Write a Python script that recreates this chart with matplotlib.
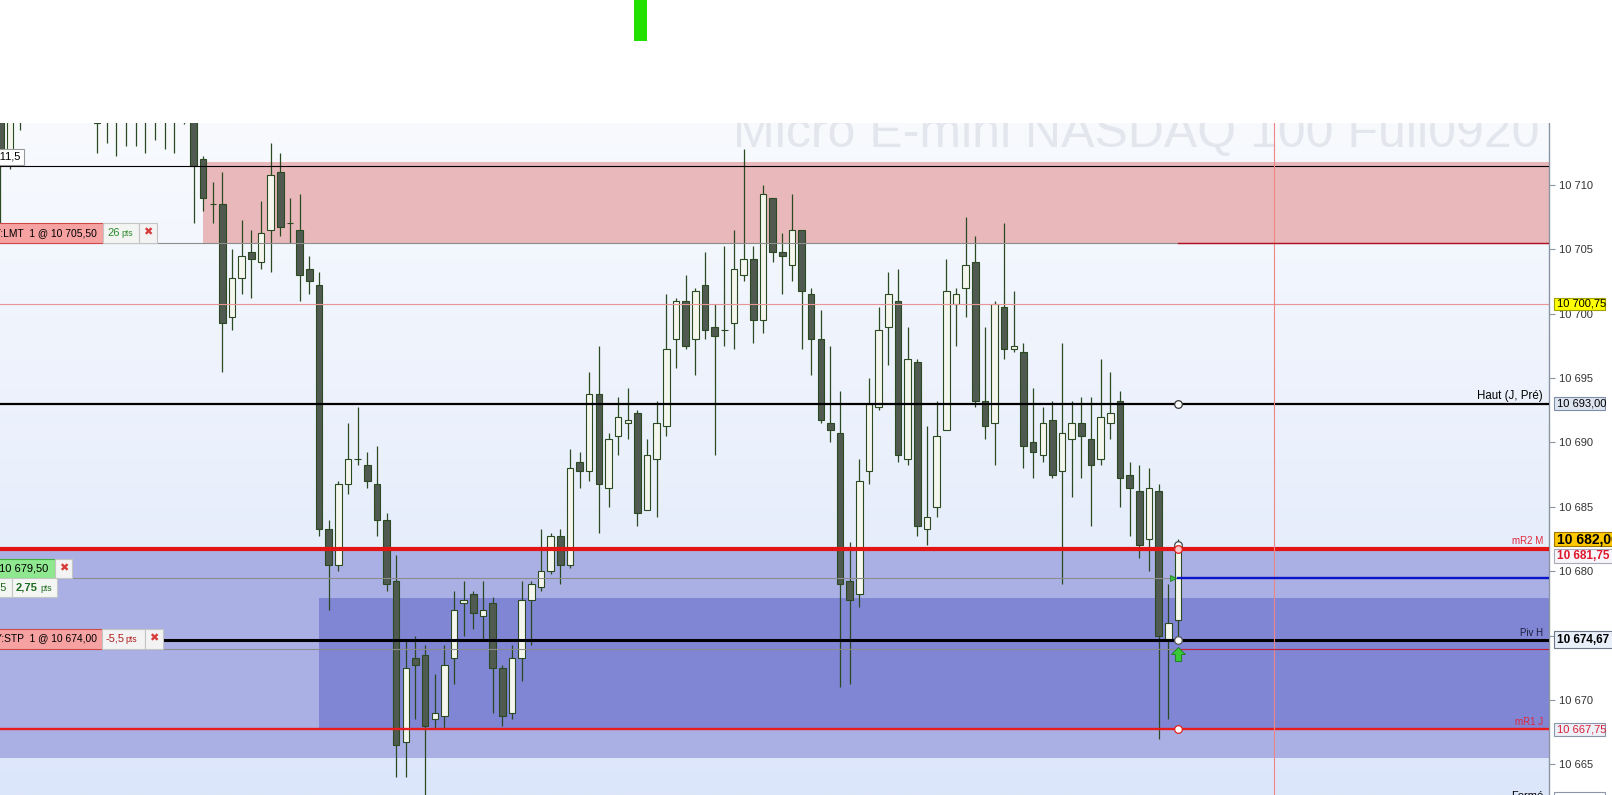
import numpy as np
import matplotlib
matplotlib.use('Agg')
import matplotlib.pyplot as plt
from matplotlib.patches import Rectangle
from matplotlib.path import Path

plt.rcParams['font.family'] = ['Liberation Sans', 'DejaVu Sans']

# ---------------- data (candles, index 0..122) ----------------
opens = [10716.0, 10712.5, 10717.0, 10717.0, 10718.0, 10719.0, 10718.5, 10719.5, 10720.0, 10717.0,
         10714.8, 10716.5, 10715.5, 10716.75, 10716.0, 10717.0, 10715.75, 10716.5, 10715.5, 10716.25,
         10716.0, 10712.0, 10708.5, 10708.5, 10699.75, 10702.75, 10704.75, 10704.0, 10706.5, 10711.0,
         10707.0, 10706.5, 10703.5, 10702.25, 10683.25, 10680.5, 10686.75, 10688.75, 10688.25, 10686.75,
         10684.0, 10679.25, 10666.75, 10673.25, 10673.5, 10668.5, 10668.75, 10673.25, 10677.5, 10678.25,
         10676.5, 10677.5, 10672.5, 10669.0, 10673.25, 10677.75, 10678.75, 10680.0, 10682.75, 10680.5,
         10688.5, 10687.75, 10693.75, 10686.5, 10690.5, 10691.5, 10692.25, 10684.75, 10688.75, 10691.25,
         10698.0, 10701.0, 10698.0, 10702.25, 10699.0, 10698.75, 10699.25, 10703.0, 10704.25, 10699.5,
         10709.0, 10704.75, 10703.75, 10706.5, 10701.5, 10698.0, 10691.5, 10690.75, 10679.25, 10678.25,
         10687.75, 10692.75, 10699.0, 10701.0, 10688.75, 10696.25, 10683.25, 10685.0, 10691.0, 10700.75,
         10702.0, 10704.0, 10693.25, 10691.5, 10700.5, 10697.25, 10697.0, 10690.0, 10689.0, 10691.75,
         10687.75, 10690.25, 10691.5, 10690.25, 10688.75, 10691.5, 10693.25, 10687.5, 10686.25, 10682.5,
         10686.25, 10674.75, 10676.25]
highs = [10717.0, 10717.5, 10718.0, 10719.0, 10720.0, 10721.0, 10720.5, 10721.5, 10721.0, 10719.0,
         10717.0, 10717.5, 10717.5, 10718.0, 10718.0, 10718.0, 10717.5, 10717.25, 10717.0, 10717.0,
         10716.5, 10712.25, 10710.25, 10711.0, 10705.0, 10707.25, 10706.5, 10708.75, 10713.25, 10712.5,
         10709.0, 10709.25, 10704.5, 10703.25, 10684.0, 10687.0, 10691.5, 10692.75, 10689.25, 10689.75,
         10684.5, 10681.25, 10674.75, 10675.0, 10674.25, 10672.0, 10674.25, 10678.5, 10679.25, 10678.5,
         10679.25, 10678.0, 10672.75, 10674.25, 10679.25, 10679.25, 10683.25, 10683.0, 10683.25, 10689.5,
         10689.25, 10695.5, 10697.5, 10690.75, 10693.5, 10694.25, 10692.5, 10690.25, 10693.25, 10701.5,
         10701.25, 10703.0, 10702.0, 10704.75, 10700.75, 10705.25, 10706.5, 10712.75, 10705.25, 10710.0,
         10709.0, 10706.25, 10709.25, 10706.5, 10702.0, 10700.25, 10697.5, 10694.0, 10682.25, 10688.75,
         10695.0, 10700.5, 10703.25, 10703.5, 10699.0, 10696.5, 10691.25, 10693.25, 10704.25, 10702.0,
         10707.5, 10706.0, 10699.0, 10701.0, 10707.0, 10701.75, 10697.75, 10694.25, 10692.75, 10693.25,
         10697.75, 10693.25, 10693.5, 10693.5, 10696.5, 10695.5, 10694.0, 10688.5, 10688.25, 10688.0,
         10686.75, 10679.0, 10682.5]
lows = [10707.0, 10711.25, 10714.25, 10715.5, 10716.0, 10717.0, 10716.5, 10717.5, 10716.0, 10715.5,
        10712.5, 10713.25, 10712.25, 10713.0, 10713.0, 10712.5, 10713.5, 10712.75, 10712.5, 10714.75,
        10707.0, 10708.0, 10707.0, 10695.5, 10698.75, 10701.5, 10701.25, 10703.5, 10703.25, 10706.0,
        10705.5, 10701.0, 10701.5, 10682.75, 10677.0, 10680.0, 10686.0, 10688.25, 10686.5, 10682.75,
        10678.5, 10664.0, 10664.0, 10668.5, 10662.0, 10667.75, 10667.75, 10671.25, 10675.0, 10675.5,
        10674.75, 10669.0, 10668.0, 10668.5, 10671.5, 10674.25, 10678.5, 10679.75, 10679.0, 10680.25,
        10686.5, 10687.0, 10683.0, 10685.0, 10689.0, 10690.25, 10683.5, 10684.75, 10684.25, 10690.5,
        10695.75, 10697.25, 10695.25, 10698.0, 10689.0, 10697.5, 10697.25, 10702.5, 10697.75, 10698.5,
        10704.0, 10701.5, 10702.5, 10697.25, 10695.25, 10691.5, 10690.0, 10671.0, 10671.25, 10677.25,
        10686.75, 10692.5, 10696.0, 10688.5, 10688.25, 10682.75, 10682.0, 10684.25, 10691.0, 10697.5,
        10699.75, 10692.75, 10690.25, 10688.25, 10696.5, 10697.0, 10688.0, 10687.25, 10688.5, 10687.25,
        10679.0, 10685.75, 10687.25, 10683.5, 10688.25, 10690.25, 10685.0, 10682.75, 10681.0, 10680.0,
        10667.0, 10668.5, 10674.75]
closes = [10711.75, 10716.5, 10716.0, 10718.0, 10719.0, 10718.5, 10719.5, 10720.0, 10717.0, 10718.0,
          10716.5, 10715.5, 10716.75, 10716.0, 10717.0, 10715.75, 10716.5, 10715.5, 10716.25, 10715.25,
          10711.5, 10709.0, 10708.5, 10699.25, 10702.75, 10704.5, 10704.25, 10706.25, 10710.75, 10706.75,
          10707.0, 10703.0, 10702.5, 10683.25, 10680.5, 10686.75, 10688.75, 10688.75, 10687.0, 10684.0,
          10679.0, 10666.5, 10672.5, 10672.75, 10668.0, 10669.0, 10672.75, 10677.0, 10677.75, 10676.75,
          10677.0, 10672.5, 10668.75, 10673.25, 10677.75, 10679.0, 10680.0, 10682.75, 10680.5, 10688.0,
          10687.75, 10693.75, 10686.75, 10690.25, 10692.0, 10691.75, 10684.5, 10689.0, 10691.5, 10697.25,
          10701.0, 10697.5, 10701.75, 10698.75, 10698.25, 10698.75, 10703.5, 10704.25, 10699.5, 10709.25,
          10704.75, 10704.5, 10706.5, 10701.75, 10698.0, 10691.75, 10691.0, 10679.0, 10677.75, 10687.0,
          10693.0, 10698.75, 10701.5, 10689.0, 10696.5, 10683.5, 10684.25, 10690.5, 10701.75, 10701.5,
          10703.75, 10693.25, 10691.25, 10700.75, 10697.25, 10697.5, 10689.75, 10689.25, 10691.5, 10687.5,
          10690.75, 10691.5, 10690.5, 10688.25, 10692.0, 10692.25, 10687.25, 10686.5, 10682.0, 10686.5,
          10675.0, 10676.0, 10682.0]

# price levels and zones
top_line = 10711.5
lmt_price = 10705.50
pink_zone = (10705.4, 10711.8)
pink_level = 10700.75
haut_prev = 10693.00
mr2_m = 10681.75
tp_price = 10679.50
piv_h = 10674.67
stp_price = 10674.00
mr1_j = 10667.75
last_price = 10682.0
light_band = (10665.5, 10681.75)
dark_band = (10667.65, 10677.9)
pink_zone_start = 21
dark_band_start = 33
piv_line_start = 17
cursor_index = 132
green_bar_index = 66.3
yticks = [10665, 10670, 10675, 10680, 10685, 10690, 10695, 10700, 10705, 10710]
watermark = "Micro E-mini NASDAQ 100 Full0920"

# ---------------- layout ----------------
W, H = 1612, 795
AX_R, AX_TOP = 1549, 123
XLIM = (-0.05, 160.45)
YLIM = (10662.63, 10714.8)

fig = plt.figure(figsize=(W / 100, H / 100), dpi=100, facecolor='white')
ax = fig.add_axes([0, 0, AX_R / W, (H - AX_TOP) / H])
ax.set_xlim(*XLIM)
ax.set_ylim(*YLIM)

n = len(opens)
idx = np.arange(n)
last = idx[-1]


def py(p):
    return AX_TOP + (YLIM[1] - p) / (YLIM[1] - YLIM[0]) * (H - AX_TOP)


# gradient background
top_c = np.array([248, 250, 254]) / 255
bot_c = np.array([220, 230, 250]) / 255
t = np.linspace(0, 1, 256)[:, None]
grad = (top_c[None, :] * (1 - t) + bot_c[None, :] * t)[:, None, :]
ax.imshow(grad, extent=[XLIM[0], XLIM[1], YLIM[0], YLIM[1]], aspect='auto',
          origin='upper', zorder=0, interpolation='bilinear')

# watermark
ax.text(159.5, 10712.94, watermark, ha='right', va='baseline', fontsize=36,
        color='#e3e6ed', zorder=0.5, clip_on=True)

# zones
ax.fill_between([pink_zone_start, XLIM[1]], pink_zone[0], pink_zone[1],
                color='#e8b8bb', lw=0, zorder=1)
ax.fill_between([XLIM[0], XLIM[1]], light_band[0], light_band[1],
                color='#aab0e4', lw=0, zorder=1)
ax.fill_between([dark_band_start, XLIM[1]], dark_band[0], dark_band[1],
                color='#8085d4', lw=0, zorder=1.1)

# candles
o = np.array(opens); c = np.array(closes)
h = np.array(highs); l = np.array(lows)
up = c >= o
edge = '#2c4a22'
ax.vlines(idx, l, h, color=edge, lw=0.9, zorder=3)
ax.bar(idx[up], (c - o)[up], bottom=o[up], width=0.68, color='#f5f7ee',
       edgecolor=edge, linewidth=0.8, zorder=4)
ax.bar(idx[~up], (o - c)[~up], bottom=c[~up], width=0.68, color='#505a50',
       edgecolor=edge, linewidth=0.8, zorder=4)

# horizontal lines
ax.axhline(top_line, color='black', lw=0.8, zorder=5)
ax.axhline(lmt_price, color='#8c8c8c', lw=0.8, zorder=5)
ax.axhline(pink_level, color='#e89595', lw=0.8, zorder=5)
ax.axhline(haut_prev, color='black', lw=1.6, zorder=5)
ax.axhline(mr2_m, color='#e31414', lw=3.0, zorder=5)
ax.axhline(tp_price, color='#8c8c8c', lw=0.8, zorder=5)
ax.plot([piv_line_start, XLIM[1]], [piv_h, piv_h], color='black', lw=2.2, zorder=5)
ax.axhline(stp_price, color='#8c8c8c', lw=0.8, zorder=5)
ax.axhline(mr1_j, color='#e81c1c', lw=1.7, zorder=5)
ax.plot([last, XLIM[1]], [tp_price, tp_price], color='#0a14c8', lw=1.7, zorder=5.2)
ax.plot([last, XLIM[1]], [stp_price, stp_price], color='#c0203a', lw=0.8, zorder=5.2)
ax.plot([last, XLIM[1]], [lmt_price, lmt_price], color='#b01020', lw=1.0, zorder=5.2)
ax.axvline(cursor_index, color='#f08585', lw=0.8, zorder=5)

# markers at last candle
ax.plot([last], [haut_prev], 'o', ms=5.5, mfc='white', mec='#333333', mew=0.9, zorder=7)
ax.plot([last], [last_price], 'o', ms=5.5, mfc='white', mec='#444444', mew=0.9, zorder=7)
ax.plot([last], [mr2_m], 'o', ms=5.5, mfc='#ffc8c8', mec='#e02020', mew=0.9, zorder=7)
ax.plot([last], [piv_h], 'o', ms=5.5, mfc='white', mec='#555555', mew=0.9, zorder=7)
ax.plot([last], [mr1_j], 'o', ms=5.5, mfc='white', mec='#e02020', mew=0.9, zorder=7)
ax.plot([last - 0.5], [tp_price], '>', ms=5, mfc='#40c040', mec='#208020', mew=0.6, zorder=7)
arrow = Path([(0, 1), (-1, 0), (-0.45, 0), (-0.45, -1), (0.45, -1), (0.45, 0), (1, 0), (0, 1)])
ax.plot([last], [stp_price - 0.4], marker=arrow, ms=10, mfc='#38c838', mec='#1a7a1a',
        mew=0.6, zorder=7)

# axis styling
for s in ['left', 'top', 'bottom']:
    ax.spines[s].set_visible(False)
ax.spines['right'].set_color('#8a96a3')
ax.spines['right'].set_linewidth(1.0)
ax.set_xticks([])
ax.yaxis.tick_right()
ax.set_yticks(yticks)
ax.set_yticklabels([f"{v // 1000} {v % 1000:03d}" for v in yticks])
ax.tick_params(axis='y', length=4, width=0.8, color='#8a96a3', labelsize=8,
               labelcolor='#333333', pad=3)
ax.text(1.0 + 8 / AX_R, 10715.0, "10 715", transform=ax.get_yaxis_transform(),
        ha='left', va='center', fontsize=8, color='#333333', clip_on=False)

# top white panel with indicator bar (drawn over the chart top)
axt = fig.add_axes([0, (H - AX_TOP) / H, 1, AX_TOP / H])
axt.set_xlim(XLIM[0], XLIM[0] + (XLIM[1] - XLIM[0]) * W / AX_R)
axt.set_ylim(0, 1)
axt.set_xticks([])
axt.set_yticks([])
for s in axt.spines.values():
    s.set_visible(False)
axt.set_facecolor('white')
axt.bar([green_bar_index], [0.333], bottom=0.667, width=1.35, color='#22e000', lw=0)

# ---------------- overlay labels (pixel space) ----------------
ov = fig.add_axes([0, 0, 1, 1], zorder=10)
ov.set_xlim(0, W)
ov.set_ylim(H, 0)
ov.axis('off')
ov.patch.set_alpha(0)


def box(x0, x1, yc, hh, fc, ec, lw=0.8):
    ov.add_patch(Rectangle((x0, yc - hh / 2), x1 - x0, hh, fc=fc, ec=ec, lw=lw, zorder=1))


def txt(x, y, s, ha='left', size=8, color='black', weight='normal', fam=None):
    kw = {}
    if fam:
        kw['family'] = fam
    ov.text(x, y, s, ha=ha, va='center', fontsize=size, color=color, weight=weight, zorder=2, **kw)


X = ['DejaVu Sans']

# "11,5" label
yc = py(top_line) - 9
box(-20, 24, yc, 16, 'white', '#9a9a9a')
txt(20, yc, "10 711,5", ha='right', size=8)

# LMT order
yc = py(lmt_price) - 10
box(-40, 103, yc, 20, '#f7a2a2', '#d04848')
txt(97, yc, "BUY:LMT  1 @ 10 705,50", ha='right', size=7.4)
box(103, 139, yc, 20, '#f2f5f2', '#c4c8c4')
txt(107, yc, "26", size=8, color='#2e8b2e')
txt(121, yc + 1, "pts", size=6.3, color='#2e8b2e')
box(139, 157, yc, 20, '#f3f3f3', '#c4c4c4')
txt(148, yc, "\u2716", ha='center', size=8, color='#d83a3a', fam=X)

# TP order
yc = py(tp_price) - 9.5
box(-30, 55, yc, 19, '#8fe88f', '#40b040')
txt(48, yc, "10 679,50", ha='right', size=8)
box(55, 72, yc, 19, '#f3f3f3', '#c4c4c4')
txt(63.5, yc, "\u2716", ha='center', size=8, color='#d83a3a', fam=X)
yc2 = py(tp_price) + 9.5
box(-30, 12, yc2, 19, '#f3f6f3', '#c4c8c4')
txt(7, yc2, "0,75", ha='right', size=8, color='#1f6b1f')
box(12, 57, yc2, 19, '#f3f6f3', '#c4c8c4')
txt(16, yc2, "2,75", size=8, color='#1f6b1f', weight='bold')
txt(40, yc2 + 1, "pts", size=6.3, color='#1f6b1f')

# STP order
yc = py(stp_price) - 10
box(-40, 102, yc, 20, '#f7a2a2', '#d04848')
txt(97, yc, "BUY:STP  1 @ 10 674,00", ha='right', size=7.4)
box(102, 145, yc, 20, '#f3f3f3', '#c4c4c4')
txt(106, yc, "-5,5", size=8, color='#b02020')
txt(125, yc + 1, "pts", size=6.3, color='#b02020')
box(145, 163, yc, 20, '#f3f3f3', '#c4c4c4')
txt(154, yc, "\u2716", ha='center', size=8, color='#d83a3a', fam=X)

# level names near the axis
ov.text(1543, py(haut_prev) - 1.5, "Haut (J, Pré)", ha='right', va='bottom', fontsize=8.3, color='black')
ov.text(1543, py(mr2_m) - 2.5, "mR2 M", ha='right', va='bottom', fontsize=7, color='#e0283c')
ov.text(1543, py(piv_h) - 2, "Piv H", ha='right', va='bottom', fontsize=7, color='#1e1e3c')
ov.text(1543, py(mr1_j) - 2, "mR1 J", ha='right', va='bottom', fontsize=7, color='#e0283c')

# price boxes on the axis
box(1554, 1605, py(pink_level), 12, '#ffff00', '#a0a000')
txt(1557, py(pink_level), "10 700,75", size=8)
box(1554, 1605, py(haut_prev), 13, '#dde5f1', '#7f8ea8')
txt(1557, py(haut_prev), "10 693,00", size=8)
box(1554, 1640, py(last_price) - 6, 14, '#ffc800', '#a07800')
txt(1557, py(last_price) - 6, "10 682,00", size=10, weight='bold')
box(1554, 1640, py(mr2_m) + 7, 14, '#f6f6fb', '#a8aab8')
txt(1557, py(mr2_m) + 7, "10 681,75", size=8.5, color='#e0182c', weight='bold')
box(1554, 1640, py(piv_h) - 0.5, 17, '#eaf0fa', '#6c7888')
txt(1557, py(piv_h), "10 674,67", size=8.5, weight='bold')
box(1554, 1605, py(mr1_j), 13, '#eef0f8', '#8c96a8')
txt(1557, py(mr1_j), "10 667,75", size=8, color='#d82038')
box(1554, 1605, 800, 16, 'white', '#8c96a8')
ov.text(1543, 791, "Fermé", ha='right', va='top', fontsize=8, color='black')

fig.savefig('out.png', dpi=100, facecolor='white')
